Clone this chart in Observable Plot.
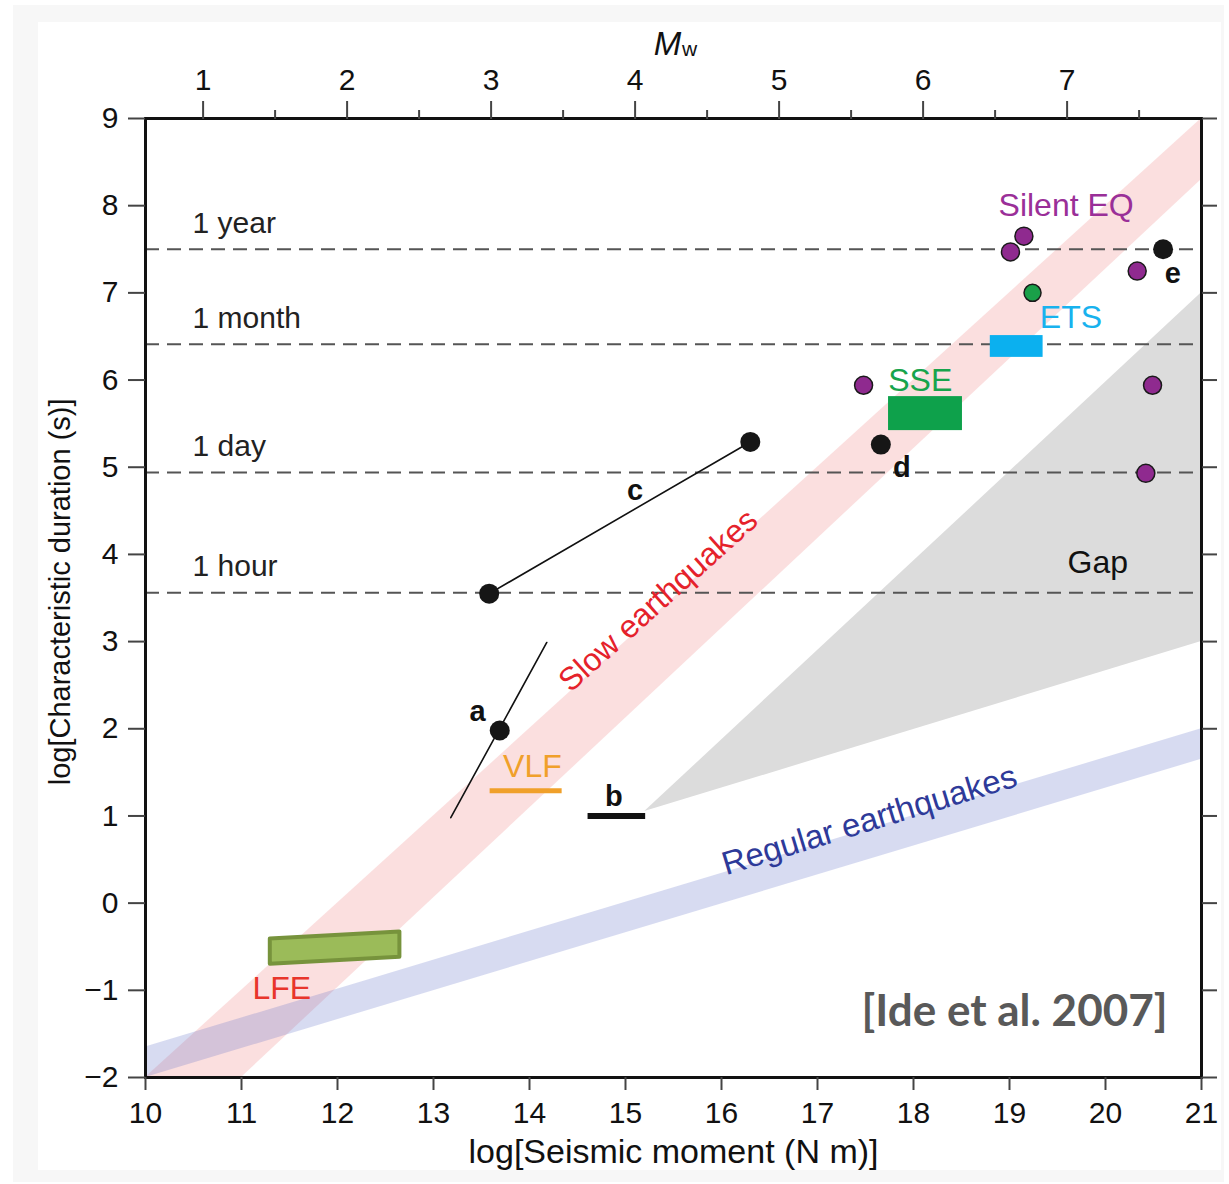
<!DOCTYPE html>
<html>
<head>
<meta charset="utf-8">
<script src="https://cdn.jsdelivr.net/npm/d3@7"></script>
<script src="https://cdn.jsdelivr.net/npm/@observablehq/plot@0.6"></script>
<style>
  html, body { margin: 0; padding: 0; background: #ffffff; overflow: hidden; }
  #outer { position: absolute; left: 13px; top: 5px; width: 1211px; height: 1177px; background: #f7f7f7; }
  #inner { position: absolute; left: 38px; top: 22px; width: 1183px; height: 1148px; background: #ffffff; }
  #chart { position: absolute; left: 0; top: 0; }
</style>
</head>
<body>
<div id="outer"></div>
<div id="inner"></div>
<div id="chart"></div>
<script>
// ---- axis ticks ----
const logM0Ticks = [10, 11, 12, 13, 14, 15, 16, 17, 18, 19, 20, 21];
const logTTicks = [-2, -1, 0, 1, 2, 3, 4, 5, 6, 7, 8, 9];
const mwMajorTicks = [1, 2, 3, 4, 5, 6, 7];
const mwMinorTicks = [1.5, 2.5, 3.5, 4.5, 5.5, 6.5, 7.5];
const mwToLogM0 = mw => 1.5 * mw + 9.1;

// ---- reference durations ----
const durationNames = ["1 year", "1 month", "1 day", "1 hour"];
const durationLogT = [7.5, 6.41, 4.94, 3.56];

// ---- shaded regions (edges) ----
const slowBandX = [10, 21], slowBandLo = [-3.03, 8.3], slowBandHi = [-2, 9];
const regBandX = [10, 21], regBandLo = [-2.0, 1.65], regBandHi = [-1.65, 2.0];
const gapX = [15.2, 21], gapLo = [1.05, 3.0], gapHi = [1.05, 7.0];
const lfeX = [11.3, 12.65], lfeLo = [-0.70, -0.62], lfeHi = [-0.41, -0.33];

// ---- observations ----
const silentM0 = [19.01, 19.15, 20.33, 17.48, 20.49, 20.42];
const silentT = [7.47, 7.65, 7.25, 5.94, 5.94, 4.93];
const etsDotM0 = [19.24], etsDotT = [7.0];
const blackM0 = [13.58, 16.30, 13.69, 17.66, 20.6];
const blackT = [3.55, 5.29, 1.98, 5.26, 7.5];
const lineCM0 = [13.58, 16.30], lineCT = [3.55, 5.29];
const lineAM0 = [13.18, 14.18], lineAT = [0.98, 2.99];
const letterNames = ["a", "b", "c", "d", "e"];
const letterM0 = [13.46, 14.88, 15.1, 17.88, 20.7];
const letterT = [2.19, 1.22, 4.73, 5.0, 7.22];
const boxNames = ["SSE", "ETS"];
const boxX1 = [17.74, 18.80], boxX2 = [18.51, 19.35];
const boxY1 = [5.42, 6.26], boxY2 = [5.81, 6.51];
const barNames = ["VLF", "b"];
const barX1 = [13.59, 14.61], barX2 = [14.34, 15.21], barY = [1.29, 1.0];

// ---- category labels ----
const catNames = ["Silent EQ", "ETS", "SSE", "VLF", "LFE", "Gap"];
const catM0 = [19.59, 19.64, 18.07, 14.03, 11.42, 19.92];
const catT = [8.0, 6.71, 5.99, 1.57, -0.98, 3.9];
const catColors = ["#9a2f98", "#18b2ee", "#17a44c", "#f0a02a", "#e8352b", "#111111"];

// build tables
const zip2 = (xs, lo, hi) => xs.map((x, i) => ({x, lo: lo[i], hi: hi[i]}));
const pts = (xs, ys) => xs.map((x, i) => ({x, y: ys[i]}));
const slowBand = zip2(slowBandX, slowBandLo, slowBandHi);
const regBand = zip2(regBandX, regBandLo, regBandHi);
const gap = zip2(gapX, gapLo, gapHi);
const lfe = zip2(lfeX, lfeLo, lfeHi);
const durations = durationNames.map((name, i) => ({name, y: durationLogT[i]}));
const boxes = boxNames.map((name, i) => ({name, x1: boxX1[i], x2: boxX2[i], y1: boxY1[i], y2: boxY2[i]}));
const bars = barNames.map((name, i) => ({name, x1: barX1[i], x2: barX2[i], y: barY[i]}));
const letters = letterNames.map((name, i) => ({name, x: letterM0[i], y: letterT[i]}));
const cats = catNames.map((name, i) => ({name, x: catM0[i], y: catT[i], color: catColors[i]}));

const font = "'Liberation Sans', Arial, Helvetica, sans-serif";

const chart = Plot.plot({
  width: 1229,
  height: 1184,
  marginLeft: 145,
  marginRight: 28,
  marginTop: 118,
  marginBottom: 107,
  x: {domain: [10, 21], axis: null},
  y: {domain: [-2, 9], axis: null},
  style: {background: "transparent", fontFamily: font, color: "#111"},
  marks: [
    Plot.area(gap, {x1: "x", y1: "lo", y2: "hi", fill: "#dcdcdc", clip: true}),
    Plot.area(slowBand, {x1: "x", y1: "lo", y2: "hi", fill: "#f08080", fillOpacity: 0.25, clip: true}),
    Plot.area(regBand, {x1: "x", y1: "lo", y2: "hi", fill: "#6070c8", fillOpacity: 0.25, clip: true}),
    Plot.ruleY(durations, {y: "y", stroke: "#555", strokeWidth: 2, strokeDasharray: "14,8"}),
    Plot.text(durations, {y: "y", text: "name", frameAnchor: "left", dx: 47, dy: -26, textAnchor: "start", fontSize: 30, fill: "#222"}),
    // band labels
    Plot.text(["Slow earthquakes"], {x: [15.34], y: [3.47], rotate: -42, fontSize: 32, fill: "#e5222b"}),
    Plot.text(["Regular earthquakes"], {x: [17.54], y: [0.95], rotate: -17, fontSize: 33, fill: "#2e3a99"}),
    // LFE box
    Plot.area(lfe, {x1: "x", y1: "lo", y2: "hi", fill: "#9bbb59", stroke: "#77933c", strokeWidth: 4, strokeLinejoin: "round"}),
    // lines
    Plot.line(pts(lineCM0, lineCT), {x: "x", y: "y", stroke: "#111", strokeWidth: 1.6}),
    Plot.line(pts(lineAM0, lineAT), {x: "x", y: "y", stroke: "#111", strokeWidth: 1.6}),
    // bars
    Plot.ruleY(bars, {x1: "x1", x2: "x2", y: "y", stroke: d => d.name === "VLF" ? "#f0a02a" : "#111", strokeWidth: d => d.name === "VLF" ? 5 : 6}),
    // rectangles
    Plot.rect(boxes, {x1: "x1", x2: "x2", y1: "y1", y2: "y2", fill: d => d.name === "SSE" ? "#0ea14b" : "#0bb0ef"}),
    // dots
    Plot.dot(pts(silentM0, silentT), {x: "x", y: "y", r: 9, fill: "#8f2a8f", stroke: "#1a1a1a", strokeWidth: 1.5}),
    Plot.dot(pts(etsDotM0, etsDotT), {x: "x", y: "y", r: 8.5, fill: "#1aa049", stroke: "#1a1a1a", strokeWidth: 1.5}),
    Plot.dot(pts(blackM0, blackT), {x: "x", y: "y", r: 10, fill: "#161616"}),
    // labels
    Plot.text(letters, {x: "x", y: "y", text: "name", fontSize: 29, fontWeight: "bold", fill: "#111"}),
    Plot.text(cats, {x: "x", y: "y", text: "name", fontSize: 32, fill: d => d.color}),
    Plot.text(["[Ide et al. 2007]"], {frameAnchor: "bottom-right", dx: -34, dy: -52, textAnchor: "end", fontSize: 44, fontWeight: "bold", fontFamily: "Lato, 'Open Sans', sans-serif", fill: "#595959"}),
    // frame
    Plot.frame({stroke: "#111", strokeWidth: 3}),
    // axes
    Plot.axisX({anchor: "bottom", ticks: logM0Ticks, tickSize: 13, tickPadding: 11, fontSize: 30, label: null, stroke: "#444", strokeWidth: 2, fill: "#111", tickFormat: d => String(d)}),
    Plot.axisY({anchor: "left", ticks: logTTicks, tickSize: 17, tickPadding: 10, fontSize: 30, label: null, stroke: "#444", strokeWidth: 2, fill: "#111", tickFormat: d => d < 0 ? "\u2212" + Math.abs(d) : String(d)}),
    Plot.axisY({anchor: "right", ticks: logTTicks, tickSize: 15, label: null, stroke: "#444", strokeWidth: 2, tickFormat: () => ""}),
    Plot.axisX({anchor: "top", ticks: mwMajorTicks.map(mwToLogM0), tickSize: 18, tickPadding: 11, fontSize: 30, label: null, stroke: "#444", strokeWidth: 2, fill: "#111", tickFormat: d => String(Math.round((d - 9.1) / 1.5))}),
    Plot.axisX({anchor: "top", ticks: mwMinorTicks.map(mwToLogM0), tickSize: 9, label: null, stroke: "#444", strokeWidth: 2, tickFormat: () => ""}),
    // axis titles
    Plot.text(["log[Seismic moment (N m)]"], {frameAnchor: "bottom", dy: 85, fontSize: 34, fill: "#111"}),
    Plot.text(["log[Characteristic duration (s)]"], {x: [9.115], y: [3.57], rotate: -90, fontSize: 29, fill: "#111"}),
    Plot.text(["M"], {frameAnchor: "top", dx: -6, dy: -87, fontSize: 33, fontStyle: "italic", fill: "#111"}),
    Plot.text(["w"], {frameAnchor: "top", dx: 16, dy: -77, fontSize: 21, fill: "#111"})
  ]
});
document.getElementById("chart").appendChild(chart);
</script>
</body>
</html>
